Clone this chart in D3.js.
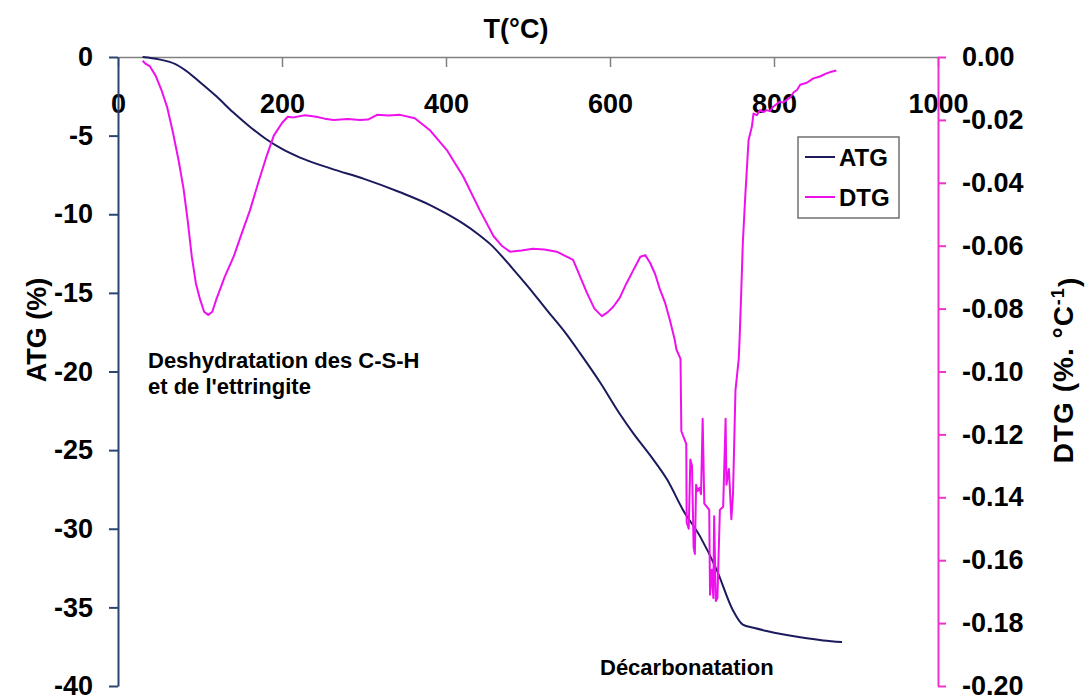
<!DOCTYPE html>
<html>
<head>
<meta charset="utf-8">
<script src="https://cdn.jsdelivr.net/npm/d3@7"></script>
<style>
  body { margin: 0; background: #fff; }
  text { font-family: "Liberation Sans", Arial, sans-serif; }
</style>
</head>
<body>
<div id="chart"></div>
<script>
// temperature (°C) and mass loss ATG (%)
var atgTemp = [30, 50, 70, 85, 100, 120, 140, 160, 180, 200, 222, 260, 300, 344, 380, 400, 421, 440, 454, 482, 500, 523, 545, 563, 588, 612, 628, 650, 670, 689, 710, 730, 750, 762, 775, 791, 832, 860, 883];
var atgValues = [0, -0.15, -0.45, -0.95, -1.6, -2.5, -3.5, -4.4, -5.2, -5.85, -6.4, -7.1, -7.75, -8.6, -9.4, -9.95, -10.6, -11.3, -11.9, -13.5, -14.6, -16.1, -17.5, -18.8, -20.7, -22.7, -23.9, -25.4, -26.9, -28.8, -30.5, -32.6, -35.2, -36.1, -36.3, -36.5, -36.9, -37.1, -37.2];

// temperature (°C) and DTG (%.°C-1)
var dtgTemp = [30, 33, 39, 46, 53, 60, 67, 74, 80, 85, 90, 95, 100, 105, 110, 115, 120, 130, 141, 151, 161, 171, 181, 190, 200, 207, 214, 228, 242, 252, 263, 280, 295, 305, 316, 330, 344, 362, 380, 401, 421, 441, 458, 468, 478, 492, 506, 520, 535, 555, 572, 581, 590, 597, 604, 612, 620, 628, 637, 643, 649, 655, 661, 667, 673, 679, 681, 686, 687, 690, 693, 693.5, 696, 698, 700, 702, 703.5, 705, 707, 709, 711, 713, 715, 718, 721, 722, 724, 726, 727, 729, 731, 734, 738, 741, 742, 745, 748, 750, 753, 757, 758, 760, 762, 765, 769, 773, 775, 779, 783, 787, 791, 795, 799, 803, 807, 811, 815, 820, 824, 828, 832, 840, 848, 856, 864, 870, 876];
var dtgValues = [-0.0012, -0.002, -0.003, -0.006, -0.0105, -0.016, -0.024, -0.033, -0.042, -0.052, -0.0635, -0.072, -0.077, -0.081, -0.082, -0.081, -0.077, -0.070, -0.0635, -0.056, -0.0487, -0.040, -0.0317, -0.025, -0.021, -0.019, -0.0192, -0.0185, -0.019, -0.0196, -0.020, -0.0197, -0.020, -0.0199, -0.0184, -0.0186, -0.0184, -0.0195, -0.0232, -0.0296, -0.038, -0.0486, -0.057, -0.060, -0.0619, -0.0615, -0.061, -0.0612, -0.0619, -0.0645, -0.0751, -0.080, -0.0824, -0.0812, -0.0794, -0.0765, -0.072, -0.068, -0.0635, -0.063, -0.0655, -0.069, -0.074, -0.078, -0.0836, -0.090, -0.093, -0.096, -0.119, -0.121, -0.123, -0.148, -0.150, -0.128, -0.130, -0.156, -0.158, -0.136, -0.138, -0.137, -0.139, -0.115, -0.142, -0.143, -0.144, -0.171, -0.163, -0.172, -0.146, -0.173, -0.172, -0.144, -0.143, -0.115, -0.136, -0.131, -0.147, -0.139, -0.106, -0.096, -0.090, -0.075, -0.059, -0.044, -0.0264, -0.0222, -0.018, -0.0185, -0.0169, -0.0175, -0.0169, -0.0172, -0.0158, -0.0150, -0.0142, -0.0145, -0.0137, -0.0128, -0.0112, -0.0105, -0.0088, -0.0082, -0.0068, -0.0062, -0.0052, -0.0047, -0.0043];

var xTicks = [0, 200, 400, 600, 800, 1000];
var atgTicks = [0, -5, -10, -15, -20, -25, -30, -35, -40];
var dtgTicks = [0, -0.02, -0.04, -0.06, -0.08, -0.10, -0.12, -0.14, -0.16, -0.18, -0.20];

var w = 1086;
var h = 700;
var plotLeft = 118, plotRight = 938, plotTop = 57, plotBottom = 686;

var svg = d3.select("#chart")
    .append("svg")
    .attr("width", w)
    .attr("height", h);

var xScale = d3.scaleLinear().domain([0, 1000]).range([plotLeft, plotRight]);
var yAtg = d3.scaleLinear().domain([-40, 0]).range([plotBottom, plotTop]);
var yDtg = d3.scaleLinear().domain([-0.2, 0]).range([plotBottom, plotTop]);

// top temperature axis
var xAxis = svg.append("g")
    .attr("transform", "translate(0," + plotTop + ")")
    .call(d3.axisBottom(xScale).tickValues(xTicks).tickSizeInner(10).tickSizeOuter(0).tickPadding(27).tickFormat(function(d) { return d; }));
xAxis.select(".domain").attr("stroke", "#808080").attr("stroke-width", 1.5);
xAxis.selectAll(".tick line").attr("stroke", "#808080").attr("stroke-width", 1.5);
xAxis.selectAll("text").attr("font-size", "27px").attr("font-weight", "bold").attr("fill", "#000");

// left ATG axis
var yAxisL = svg.append("g")
    .attr("transform", "translate(" + plotLeft + ",0)")
    .call(d3.axisLeft(yAtg).tickValues(atgTicks).tickSizeInner(9).tickSizeOuter(0).tickPadding(16).tickFormat(function(d) { return String(d); }));
yAxisL.select(".domain").attr("stroke", "#2b4470").attr("stroke-width", 2);
yAxisL.selectAll(".tick line").attr("stroke", "#2b4470").attr("stroke-width", 2);
yAxisL.selectAll("text").attr("font-size", "27px").attr("font-weight", "bold").attr("fill", "#000");

// right DTG axis
var yAxisR = svg.append("g")
    .attr("transform", "translate(" + plotRight + ",0)")
    .call(d3.axisRight(yDtg).tickValues(dtgTicks).tickSizeInner(8).tickSizeOuter(0).tickPadding(16).tickFormat(function(d) { return d.toFixed(2).replace("-0.00", "0.00"); }));
yAxisR.select(".domain").attr("stroke", "#ee33cc").attr("stroke-width", 2);
yAxisR.selectAll(".tick line").attr("stroke", "#ee33cc").attr("stroke-width", 2);
yAxisR.selectAll("text").attr("font-size", "27px").attr("font-weight", "bold").attr("fill", "#000");

// curves
var atgLine = d3.line()
    .x(function(d, i) { return xScale(atgTemp[i]); })
    .y(function(d) { return yAtg(d); })
    .curve(d3.curveMonotoneX);

var dtgLine = d3.line()
    .x(function(d, i) { return xScale(dtgTemp[i]); })
    .y(function(d) { return yDtg(d); });

svg.append("path")
    .datum(atgValues)
    .attr("d", atgLine)
    .attr("fill", "none")
    .attr("stroke", "#1a1a5c")
    .attr("stroke-width", 2);

svg.append("path")
    .datum(dtgValues)
    .attr("d", dtgLine)
    .attr("fill", "none")
    .attr("stroke", "#ee11ee")
    .attr("stroke-width", 2)
    .attr("stroke-linejoin", "round");

// titles
svg.append("text")
    .attr("x", 516)
    .attr("y", 38)
    .attr("text-anchor", "middle")
    .attr("font-size", "27px")
    .attr("font-weight", "bold")
    .text("T(°C)");

svg.append("text")
    .attr("transform", "translate(46,330) rotate(-90)")
    .attr("text-anchor", "middle")
    .attr("font-size", "27px")
    .attr("font-weight", "bold")
    .text("ATG (%)");

var dtgTitle = svg.append("text")
    .attr("transform", "translate(1073,370) rotate(-90)")
    .attr("text-anchor", "middle")
    .attr("font-size", "28px")
    .attr("font-weight", "bold")
    .attr("letter-spacing", "1px");
dtgTitle.append("tspan").text("DTG (%. °C");
dtgTitle.append("tspan").attr("dy", "-0.5em").attr("font-size", "18px").text("-1");
dtgTitle.append("tspan").attr("dy", "0.5em").text(")");

// annotations
svg.append("text")
    .attr("x", 148)
    .attr("y", 368)
    .attr("font-size", "22px")
    .attr("font-weight", "bold")
    .text("Deshydratation des C-S-H");
svg.append("text")
    .attr("x", 148)
    .attr("y", 394)
    .attr("font-size", "22px")
    .attr("font-weight", "bold")
    .text("et de l'ettringite");
svg.append("text")
    .attr("x", 600)
    .attr("y", 675)
    .attr("font-size", "22px")
    .attr("font-weight", "bold")
    .text("Décarbonatation");

// legend
var legend = svg.append("g").attr("transform", "translate(798,137)");
legend.append("rect")
    .attr("width", 101)
    .attr("height", 81)
    .attr("fill", "#fff")
    .attr("stroke", "#707070")
    .attr("stroke-width", 1.5);
var legendItems = [["ATG", "#1a1a5c"], ["DTG", "#ee11ee"]];
legendItems.forEach(function(item, i) {
    legend.append("line")
        .attr("x1", 7).attr("x2", 37)
        .attr("y1", 20 + i * 40).attr("y2", 20 + i * 40)
        .attr("stroke", item[1])
        .attr("stroke-width", 2);
    legend.append("text")
        .attr("x", 41)
        .attr("y", 29 + i * 40)
        .attr("font-size", "24px")
        .attr("font-weight", "bold")
        .text(item[0]);
});
</script>
</body>
</html>
